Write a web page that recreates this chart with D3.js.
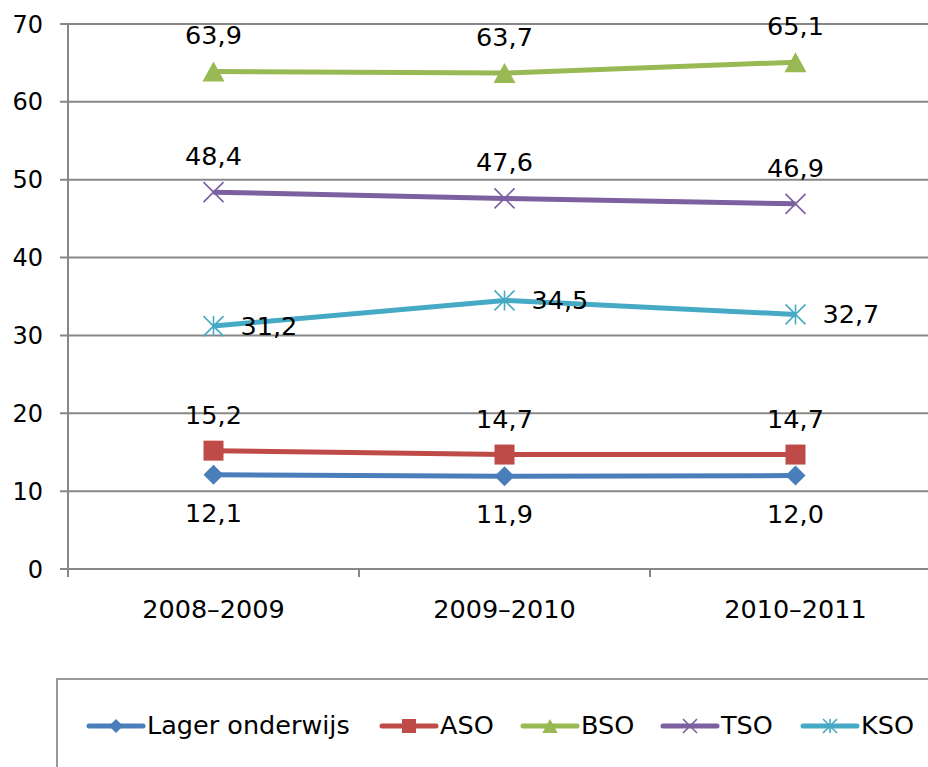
<!DOCTYPE html>
<html>
<head>
<meta charset="utf-8">
<script src="https://cdn.jsdelivr.net/npm/d3@7"></script>
<style>
	body { margin: 0; background: #fff; overflow: hidden; }
	svg { display: block; font-family: "DejaVu Sans", Verdana, sans-serif; }
</style>
</head>
<body>
<svg id="chart"></svg>
<script>
// Data
const years = ["2008–2009", "2009–2010", "2010–2011"];
const seriesNames = ["Lager onderwijs", "ASO", "BSO", "TSO", "KSO"];
const lagerValues = [12.1, 11.9, 12.0];
const asoValues = [15.2, 14.7, 14.7];
const bsoValues = [63.9, 63.7, 65.1];
const tsoValues = [48.4, 47.6, 46.9];
const ksoValues = [31.2, 34.5, 32.7];
const yTicks = [0, 10, 20, 30, 40, 50, 60, 70];

const series = [
	{ name: seriesNames[0], values: lagerValues, color: "#4a7ebb", symbol: "diamond", label: "below" },
	{ name: seriesNames[1], values: asoValues, color: "#be4b48", symbol: "square", label: "above" },
	{ name: seriesNames[2], values: bsoValues, color: "#98b954", symbol: "triangle", label: "above" },
	{ name: seriesNames[3], values: tsoValues, color: "#7d60a0", symbol: "x", label: "above" },
	{ name: seriesNames[4], values: ksoValues, color: "#46aac5", symbol: "star", label: "right" }
];

const width = 928;
const height = 767;
const margin = { left: 68, top: 24, bottom: 198 };
const plotRight = 941; // last category band runs past the window edge

const svg = d3.select("#chart")
	.attr("width", width)
	.attr("height", height);

// Scales
const x = d3.scaleBand()
	.domain(years)
	.range([margin.left, plotRight]);

const y = d3.scaleLinear()
	.domain([0, 70])
	.range([height - margin.bottom, margin.top]);

const gridColor = "#878787";
const labelSize = "25.5px";

// Gridlines + y ticks
svg.append("g")
	.selectAll("line")
	.data(yTicks)
	.join("line")
	.attr("x1", margin.left - 8)
	.attr("x2", width)
	.attr("y1", (d) => y(d))
	.attr("y2", (d) => y(d))
	.attr("stroke", gridColor)
	.attr("stroke-width", 2);

svg.append("g")
	.selectAll("text")
	.data(yTicks)
	.join("text")
	.attr("x", 43)
	.attr("y", (d) => y(d))
	.attr("dy", "0.36em")
	.attr("text-anchor", "end")
	.style("font-size", "24px")
	.text((d) => d);

// y axis line
svg.append("line")
	.attr("x1", margin.left)
	.attr("x2", margin.left)
	.attr("y1", y(70))
	.attr("y2", y(0) + 8)
	.attr("stroke", gridColor)
	.attr("stroke-width", 2);

// x ticks at band edges
const edges = years.map((d) => x(d)).concat([plotRight]);
svg.append("g")
	.selectAll("line")
	.data(edges.slice(1))
	.join("line")
	.attr("x1", (d) => d)
	.attr("x2", (d) => d)
	.attr("y1", y(0))
	.attr("y2", y(0) + 8)
	.attr("stroke", gridColor)
	.attr("stroke-width", 2);

svg.append("g")
	.selectAll("text")
	.data(years)
	.join("text")
	.attr("x", (d) => x(d) + x.bandwidth() / 2)
	.attr("y", 618)
	.attr("text-anchor", "middle")
	.style("font-size", labelSize)
	.text((d) => d);

// Marker shapes
function markerPath(symbol, s) {
	const h = s / 2;
	switch (symbol) {
		case "diamond": return `M0,${-h}L${h},0L0,${h}L${-h},0Z`;
		case "square": return `M${-h},${-h}H${h}V${h}H${-h}Z`;
		case "triangle": return `M0,${-h}L${h * 1.1},${h}L${-h * 1.1},${h}Z`;
		case "x": return `M${-h},${-h}L${h},${h}M${h},${-h}L${-h},${h}`;
		case "star": return `M${-h},${-h}L${h},${h}M${h},${-h}L${-h},${h}M0,${-h}V${h}`;
	}
}
function drawMarker(g, d, s) {
	const open = d.symbol === "x" || d.symbol === "star";
	g.append("path")
		.attr("d", markerPath(d.symbol, s))
		.attr("fill", open ? "none" : d.color)
		.attr("stroke", d.color)
		.attr("stroke-width", open ? 1.6 : 0);
}

const line = d3.line()
	.x((d, i) => x(years[i]) + x.bandwidth() / 2)
	.y((d) => y(d));

const seriesG = svg.append("g")
	.selectAll("g")
	.data(series)
	.join("g");

seriesG.append("path")
	.attr("d", (d) => line(d.values))
	.attr("fill", "none")
	.attr("stroke", (d) => d.color)
	.attr("stroke-width", 5);

seriesG.each(function (d) {
	const g = d3.select(this);
	d.values.forEach((v, i) => {
		const px = x(years[i]) + x.bandwidth() / 2;
		const py = y(v);
		const m = g.append("g").attr("transform", `translate(${px},${py})`);
		drawMarker(m, d, 20);

		let lx = px, ly = py, anchor = "middle";
		if (d.label === "above") ly = py - 27;
		else if (d.label === "below") ly = py + 47;
		else { lx = px + 27; ly = py + 9; anchor = "start"; }

		g.append("text")
			.attr("x", lx)
			.attr("y", ly)
			.attr("text-anchor", anchor)
			.style("font-size", labelSize)
			.text(v.toFixed(1).replace(".", ","));
	});
});

// Legend
svg.append("rect")
	.attr("x", 57)
	.attr("y", 679)
	.attr("width", 900)
	.attr("height", 200)
	.attr("fill", "none")
	.attr("stroke", "#999")
	.attr("stroke-width", 2);

const legendX = [89, 382, 523, 663, 803];
const legend = svg.append("g")
	.selectAll("g")
	.data(series)
	.join("g")
	.attr("transform", (d, i) => `translate(${legendX[i]},726)`);

legend.append("line")
	.attr("x1", 0)
	.attr("x2", 54)
	.attr("stroke", (d) => d.color)
	.attr("stroke-width", 5)
	.attr("stroke-linecap", "round");

legend.each(function (d) {
	const m = d3.select(this).append("g").attr("transform", "translate(27,0)");
	drawMarker(m, d, 14);
});

legend.append("text")
	.attr("x", 58)
	.attr("y", 8)
	.style("font-size", labelSize)
	.text((d) => d.name);
</script>
</body>
</html>
